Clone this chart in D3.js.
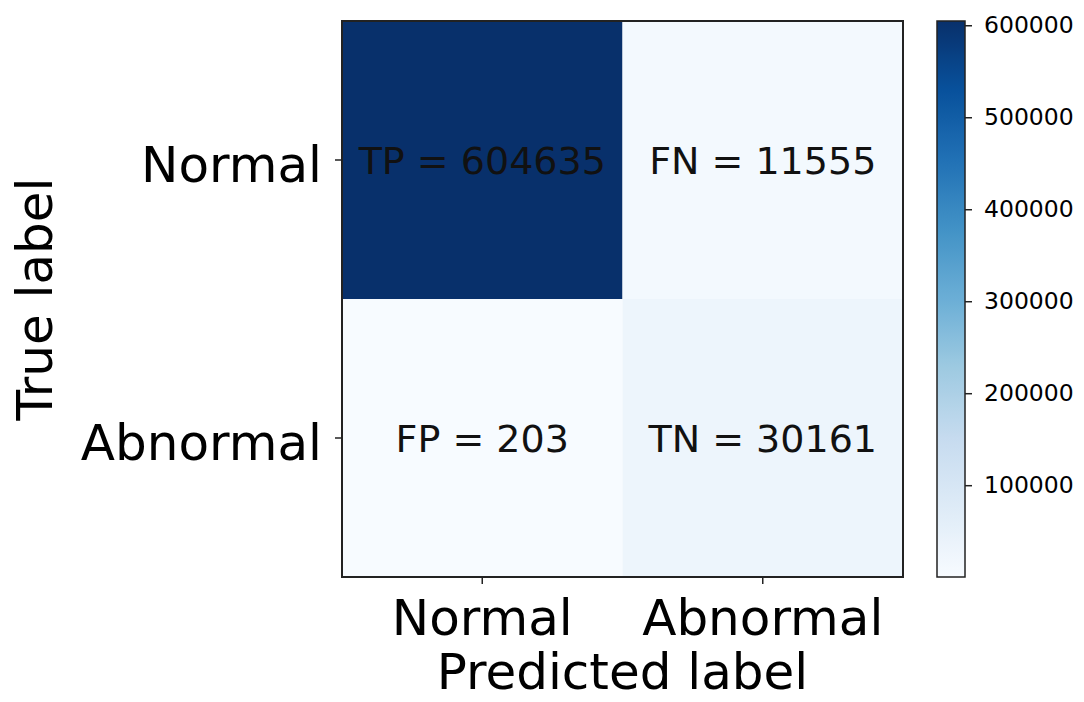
<!DOCTYPE html>
<html>
<head>
<meta charset="utf-8">
<script src="https://cdn.jsdelivr.net/npm/d3@7"></script>
<style>
  html, body { margin: 0; padding: 0; background: #ffffff; }
  svg { display: block; font-family: "DejaVu Sans", sans-serif; }
</style>
</head>
<body>
<svg id="chart" width="1084" height="702"></svg>
<script>
// ---- data ----
const trueLabels = ["Normal", "Abnormal"];
const predLabels = ["Normal", "Abnormal"];
const cellTags = [["TP", "FN"], ["FP", "TN"]];
const cellValues = [[604635, 11555], [203, 30161]];
const colorbarTicks = [100000, 200000, 300000, 400000, 500000, 600000];
const bluesStops = ["#f7fbff", "#deebf7", "#c6dbef", "#9ecae1", "#6baed6", "#4292c6", "#2171b5", "#08519c", "#08306b"];

// ---- layout ----
const plot = { left: 342, top: 21, right: 903, bottom: 577 };
const cb = { left: 937, right: 965, top: 21, bottom: 577 };
const svg = d3.select("#chart");

const allVals = cellValues.flat();
const vmin = d3.min(allVals), vmax = d3.max(allVals);

// matplotlib-like Blues colormap: linear between 9 ColorBrewer stops
const cmap = d3.scaleLinear()
  .domain(bluesStops.map((_, i) => i / (bluesStops.length - 1)))
  .range(bluesStops)
  .interpolate(d3.interpolateRgb);
const norm = d3.scaleLinear().domain([vmin, vmax]).range([0, 1]).clamp(true);
const color = v => cmap(norm(v));

const x = d3.scaleBand().domain(predLabels).range([plot.left, plot.right]);
const y = d3.scaleBand().domain(trueLabels).range([plot.top, plot.bottom]);

// cells
const cells = [];
trueLabels.forEach((t, i) => predLabels.forEach((p, j) => {
  cells.push({ t, p, v: cellValues[i][j], tag: cellTags[i][j] });
}));

svg.append("g").selectAll("rect").data(cells).join("rect")
  .attr("x", d => x(d.p)).attr("y", d => y(d.t))
  .attr("width", x.bandwidth()).attr("height", y.bandwidth())
  .attr("fill", d => color(d.v));

svg.append("g").selectAll("text").data(cells).join("text")
  .attr("x", d => x(d.p) + x.bandwidth() / 2)
  .attr("y", d => y(d.t) + y.bandwidth() / 2 + 14)
  .attr("text-anchor", "middle")
  .attr("font-size", 38)
  .attr("fill", "#111")
  .text(d => `${d.tag} = ${d.v}`);

// frame
svg.append("rect")
  .attr("x", plot.left).attr("y", plot.top)
  .attr("width", plot.right - plot.left).attr("height", plot.bottom - plot.top)
  .attr("fill", "none").attr("stroke", "#222").attr("stroke-width", 2);

// y ticks
const yt = svg.append("g");
trueLabels.forEach(t => {
  const cy = y(t) + y.bandwidth() / 2;
  yt.append("line").attr("x1", plot.left - 7).attr("x2", plot.left)
    .attr("y1", cy).attr("y2", cy).attr("stroke", "#222").attr("stroke-width", 1.5);
  yt.append("text").attr("x", 322).attr("y", cy + 22)
    .attr("text-anchor", "end").attr("font-size", 50).attr("fill", "#000").text(t);
});

// x ticks
const xt = svg.append("g");
predLabels.forEach(p => {
  const cx = x(p) + x.bandwidth() / 2;
  xt.append("line").attr("x1", cx).attr("x2", cx)
    .attr("y1", plot.bottom).attr("y2", plot.bottom + 7).attr("stroke", "#222").attr("stroke-width", 1.5);
  xt.append("text").attr("x", cx).attr("y", 635)
    .attr("text-anchor", "middle").attr("font-size", 50).attr("fill", "#000").text(p);
});

// axis titles
svg.append("text")
  .attr("x", (plot.left + plot.right) / 2).attr("y", 689)
  .attr("text-anchor", "middle").attr("font-size", 50).attr("fill", "#000")
  .text("Predicted label");
svg.append("text")
  .attr("transform", `translate(52, ${(plot.top + plot.bottom) / 2}) rotate(-90)`)
  .attr("text-anchor", "middle").attr("font-size", 50).attr("fill", "#000")
  .text("True label");

// colorbar
const defs = svg.append("defs");
const grad = defs.append("linearGradient").attr("id", "cbgrad")
  .attr("x1", 0).attr("y1", 1).attr("x2", 0).attr("y2", 0);
d3.range(0, 1.0001, 1 / 64).forEach(f => {
  grad.append("stop").attr("offset", f).attr("stop-color", cmap(f));
});
svg.append("rect")
  .attr("x", cb.left).attr("y", cb.top)
  .attr("width", cb.right - cb.left).attr("height", cb.bottom - cb.top)
  .attr("fill", "url(#cbgrad)").attr("stroke", "#222").attr("stroke-width", 1.5);

const cbScale = d3.scaleLinear().domain([vmin, vmax]).range([cb.bottom, cb.top]);
const cbAxis = d3.axisRight(cbScale).tickValues(colorbarTicks)
  .tickSize(7).tickPadding(12).tickFormat(d3.format("d"));
const cbg = svg.append("g").attr("transform", `translate(${cb.right},0)`).call(cbAxis);
cbg.select(".domain").remove();
cbg.selectAll(".tick line").attr("stroke", "#222").attr("stroke-width", 1.5);
cbg.selectAll(".tick text").attr("font-size", 23.5).attr("fill", "#000")
  .attr("font-family", "DejaVu Sans, sans-serif");
</script>
</body>
</html>
